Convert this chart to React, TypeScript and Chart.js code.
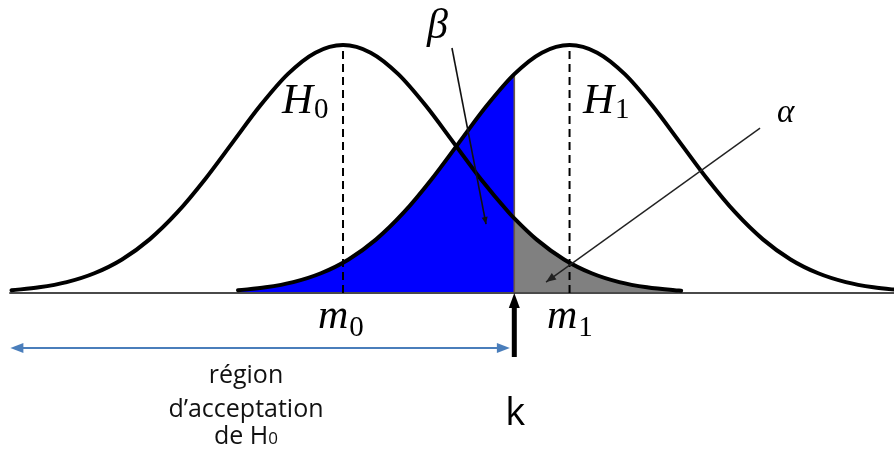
import React, { useEffect, useRef } from "react";
import { Chart, registerables } from "chart.js";

Chart.register(...registerables);

const h0X = [-3, -2.75, -2.5, -2.25, -2, -1.75, -1.5, -1.25, -1, -0.75, -0.5, -0.25, 0, 0.25, 0.5, 0.75, 1, 1.25, 1.5, 1.55, 1.75, 2, 2.25, 2.5, 2.75, 3, 3.06];
const h0Y = [0.0111, 0.0228, 0.0439, 0.0796, 0.1353, 0.2163, 0.3247, 0.4578, 0.6065, 0.7548, 0.8825, 0.9692, 1, 0.9692, 0.8825, 0.7548, 0.6065, 0.4578, 0.3247, 0.3008, 0.2163, 0.1353, 0.0796, 0.0439, 0.0228, 0.0111, 0.0093];
const h1X = [-0.95, -0.7, -0.45, -0.2, 0.05, 0.3, 0.55, 0.8, 1.05, 1.3, 1.55, 1.8, 2.05, 2.3, 2.55, 2.8, 3.05, 3.3, 3.55, 3.8, 4.05, 4.3, 4.55, 4.8, 5.05];
const h1Y = [0.0111, 0.0228, 0.0439, 0.0796, 0.1353, 0.2163, 0.3247, 0.4578, 0.6065, 0.7548, 0.8825, 0.9692, 1, 0.9692, 0.8825, 0.7548, 0.6065, 0.4578, 0.3247, 0.2163, 0.1353, 0.0796, 0.0439, 0.0228, 0.0111];

const m0 = 0;
const m1 = 2.05;
const k = 1.55;
const kHeight = 0.8825;
const baselineX = [-3.02, 5.2];
const regionStart = -3.01;
const regionEnd = 1.51;

const regionLines = ["région", "d\u2019acceptation", "de H"];

const pts = (xs: number[], ys: number[]) => xs.map((x, i) => ({ x, y: ys[i] }));

function arrowHead(ctx: CanvasRenderingContext2D, fx: number, fy: number, tx: number, ty: number, len: number, half: number, color: string) {
  const ang = Math.atan2(ty - fy, tx - fx);
  const bx = tx - Math.cos(ang) * len;
  const by = ty - Math.sin(ang) * len;
  ctx.save();
  ctx.fillStyle = color;
  ctx.beginPath();
  ctx.moveTo(tx, ty);
  ctx.lineTo(bx + Math.sin(ang) * half, by - Math.cos(ang) * half);
  ctx.lineTo(bx - Math.sin(ang) * half, by + Math.cos(ang) * half);
  ctx.closePath();
  ctx.fill();
  ctx.restore();
}

const annotations = {
  id: "annotations",
  afterDraw(chart: any) {
    const ctx: CanvasRenderingContext2D = chart.ctx;
    const sx = chart.scales.x;
    const sy = chart.scales.y;
    const X = (v: number) => sx.getPixelForValue(v);
    const Y = (v: number) => sy.getPixelForValue(v);

    const line = (x1: number, y1: number, x2: number, y2: number, color: string, w: number) => {
      ctx.save();
      ctx.strokeStyle = color;
      ctx.lineWidth = w;
      ctx.beginPath();
      ctx.moveTo(x1, y1);
      ctx.lineTo(x2, y2);
      ctx.stroke();
      ctx.restore();
    };

    // beta pointer
    {
      const x1 = X(0.986), y1 = Y(0.988), x2 = X(1.294), y2 = Y(0.278);
      line(x1, y1, x2, y2, "#111", 1.6);
      arrowHead(ctx, x1, y1, x2, y2, 7, 3, "#111");
    }
    // alpha pointer
    {
      const x1 = X(3.774), y1 = Y(0.665), x2 = X(1.837), y2 = Y(0.044);
      line(x1, y1, x2, y2, "#222", 1.4);
      arrowHead(ctx, x1, y1, x2, y2, 10, 4, "#222");
    }
    // acceptance region double arrow
    {
      const yy = Y(-0.222);
      const xa = X(regionStart), xb = X(regionEnd);
      line(xa + 8, yy, xb - 8, yy, "#4a7ebb", 2);
      arrowHead(ctx, xb, yy, xa, yy, 13, 5, "#4a7ebb");
      arrowHead(ctx, xa, yy, xb, yy, 13, 5, "#4a7ebb");
    }
    // k arrow
    {
      const xk = X(k);
      const yb = Y(-0.258), yt = Y(0);
      line(xk, yb, xk, yt + 12, "#000", 5);
      arrowHead(ctx, xk, yb, xk, yt, 15, 5.5, "#000");
    }

    // math labels
    const mathLabel = (main: string, sub: string, x: number, y: number, size: number, subSize: number, subDy: number) => {
      ctx.save();
      ctx.fillStyle = "#000";
      ctx.textBaseline = "alphabetic";
      ctx.textAlign = "left";
      ctx.font = `italic ${size}px "Liberation Serif"`;
      const px = X(x), py = Y(y);
      ctx.fillText(main, px, py);
      const w = ctx.measureText(main).width;
      if (sub) {
        ctx.font = `${subSize}px "Liberation Serif"`;
        ctx.fillText(sub, px + w + 1, py + subDy);
      }
      ctx.restore();
    };
    mathLabel("H", "0", -0.552, 0.726, 43, 29, 5);
    mathLabel("H", "1", 2.172, 0.726, 43, 29, 5);
    mathLabel("m", "0", -0.226, -0.141, 42, 29, 8);
    mathLabel("m", "1", 1.846, -0.141, 42, 29, 8);
    mathLabel("\u03B2", "", 0.76, 1.028, 42, 0, 0);
    mathLabel("\u03B1", "", 3.928, 0.69, 33, 0, 0);

    // k label
    ctx.save();
    ctx.fillStyle = "#000";
    ctx.textAlign = "center";
    ctx.textBaseline = "alphabetic";
    ctx.font = `38px "Open Sans"`;
    ctx.fillText("k", X(k) + 1, Y(-0.532));
    ctx.restore();

    // region text
    ctx.save();
    ctx.fillStyle = "#111";
    ctx.textBaseline = "alphabetic";
    const cx = X(-0.878);
    const baselines = [-0.363, -0.5, -0.609];
    regionLines.forEach((t, i) => {
      ctx.font = `25px "Open Sans"`;
      if (i < 2) {
        ctx.textAlign = "center";
        ctx.fillText(t, cx, Y(baselines[i]));
      } else {
        const w1 = ctx.measureText(t).width;
        ctx.font = `17px "Open Sans"`;
        const w2 = ctx.measureText("0").width;
        const start = cx - (w1 + w2) / 2;
        ctx.textAlign = "left";
        ctx.font = `25px "Open Sans"`;
        ctx.fillText(t, start, Y(baselines[i]));
        ctx.font = `17px "Open Sans"`;
        ctx.fillText("0", start + w1, Y(baselines[i]));
      }
    });
    ctx.restore();
  },
};

const whiteBg = {
  id: "whiteBg",
  beforeDraw(chart: any) {
    const ctx = chart.ctx;
    ctx.save();
    ctx.fillStyle = "#fff";
    ctx.fillRect(0, 0, chart.width, chart.height);
    ctx.restore();
  },
};

export default function App() {
  const ref = useRef<HTMLCanvasElement | null>(null);
  useEffect(() => {
    if (!ref.current) return;
    const h0 = pts(h0X, h0Y);
    const h1 = pts(h1X, h1Y);
    const blue = h1.filter((p) => p.x <= k + 1e-9);
    const gray = h0.filter((p) => p.x >= k - 1e-9);
    const chart = new Chart(ref.current, {
      type: "line",
      data: {
        datasets: [
          { data: blue, fill: "origin", backgroundColor: "#0000ff", borderColor: "rgba(0,0,0,0)", borderWidth: 0, pointRadius: 0, cubicInterpolationMode: "monotone", order: 10 } as any,
          { data: gray, fill: "origin", backgroundColor: "#808080", borderColor: "rgba(0,0,0,0)", borderWidth: 0, pointRadius: 0, cubicInterpolationMode: "monotone", order: 9 } as any,
          { data: [{ x: k, y: 0 }, { x: k, y: kHeight }], borderColor: "#6e5d45", borderWidth: 1.6, pointRadius: 0, fill: false, order: 8 } as any,
          { data: [{ x: baselineX[0], y: 0 }, { x: baselineX[1], y: 0 }], borderColor: "#4a4a4a", borderWidth: 2, pointRadius: 0, fill: false, order: 7 } as any,
          { data: [{ x: m0, y: 0 }, { x: m0, y: 1 }], borderColor: "#000", borderWidth: 2, borderDash: [8, 5], pointRadius: 0, fill: false, order: 6 } as any,
          { data: [{ x: m1, y: 0 }, { x: m1, y: 1 }], borderColor: "#000", borderWidth: 2, borderDash: [8, 5], pointRadius: 0, fill: false, order: 5 } as any,
          { data: h0, borderColor: "#000", borderWidth: 4, pointRadius: 0, fill: false, cubicInterpolationMode: "monotone", borderJoinStyle: "round", borderCapStyle: "round", order: 2 } as any,
          { data: h1, borderColor: "#000", borderWidth: 4, pointRadius: 0, fill: false, cubicInterpolationMode: "monotone", borderJoinStyle: "round", borderCapStyle: "round", order: 1 } as any,
        ],
      },
      options: {
        animation: false,
        responsive: false,
        events: [],
        layout: { padding: 0 },
        plugins: { legend: { display: false }, tooltip: { enabled: false } },
        scales: {
          x: { type: "linear", display: false, min: -3.104, max: 4.986 },
          y: { type: "linear", display: false, min: -0.6734, max: 1.1815 },
        },
      },
      plugins: [whiteBg, annotations],
    });
    return () => chart.destroy();
  }, []);
  return (
    <div style={{ position: "absolute", left: 0, top: 0, width: 894, height: 460, background: "#fff" }}>
      <canvas ref={ref} width={894} height={460} style={{ display: "block" }} />
    </div>
  );
}
